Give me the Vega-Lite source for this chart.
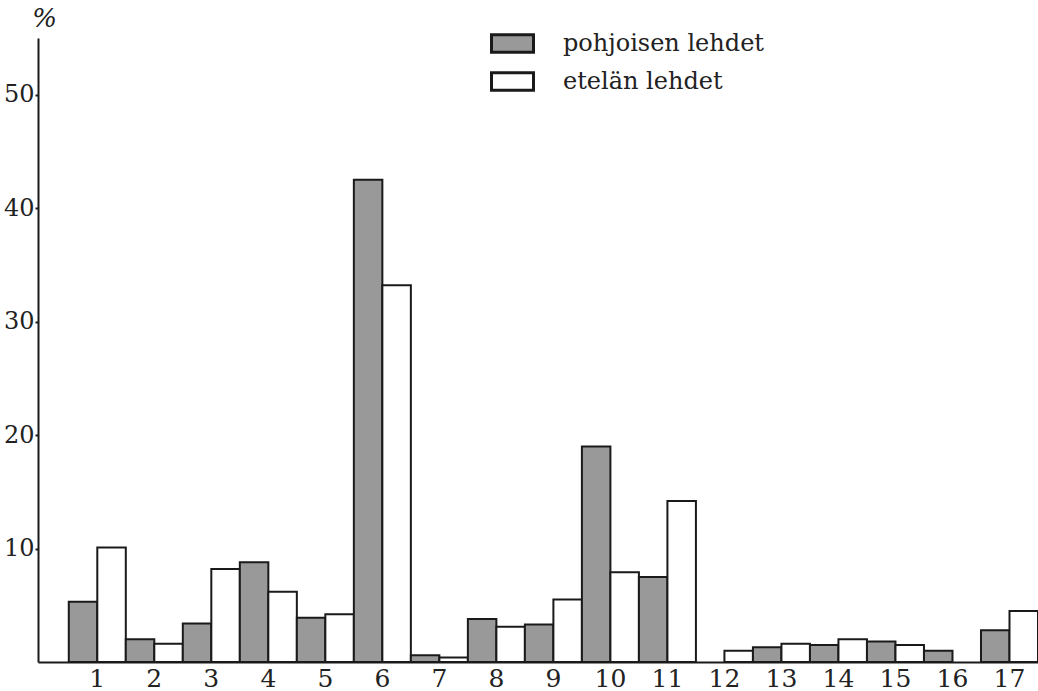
{
  "$schema": "https://vega.github.io/schema/vega-lite/v6.json",
  "width": 1000,
  "height": 624,
  "autosize": {"type": "none"},
  "padding": {"left": 38, "top": 38, "right": 0, "bottom": 29},
  "background": "white",
  "config": {
    "view": {"stroke": null},
    "font": "DejaVu Serif"
  },
  "data": {
    "values": [
      {"cat": "1", "group": "pohjoisen lehdet", "value": 5.3},
      {"cat": "1", "group": "etelän lehdet", "value": 10.1},
      {"cat": "2", "group": "pohjoisen lehdet", "value": 2.0},
      {"cat": "2", "group": "etelän lehdet", "value": 1.6},
      {"cat": "3", "group": "pohjoisen lehdet", "value": 3.4},
      {"cat": "3", "group": "etelän lehdet", "value": 8.2},
      {"cat": "4", "group": "pohjoisen lehdet", "value": 8.8},
      {"cat": "4", "group": "etelän lehdet", "value": 6.2},
      {"cat": "5", "group": "pohjoisen lehdet", "value": 3.9},
      {"cat": "5", "group": "etelän lehdet", "value": 4.2},
      {"cat": "6", "group": "pohjoisen lehdet", "value": 42.5},
      {"cat": "6", "group": "etelän lehdet", "value": 33.2},
      {"cat": "7", "group": "pohjoisen lehdet", "value": 0.6},
      {"cat": "7", "group": "etelän lehdet", "value": 0.4},
      {"cat": "8", "group": "pohjoisen lehdet", "value": 3.8},
      {"cat": "8", "group": "etelän lehdet", "value": 3.1},
      {"cat": "9", "group": "pohjoisen lehdet", "value": 3.3},
      {"cat": "9", "group": "etelän lehdet", "value": 5.5},
      {"cat": "10", "group": "pohjoisen lehdet", "value": 19.0},
      {"cat": "10", "group": "etelän lehdet", "value": 7.9},
      {"cat": "11", "group": "pohjoisen lehdet", "value": 7.5},
      {"cat": "11", "group": "etelän lehdet", "value": 14.2},
      {"cat": "12", "group": "etelän lehdet", "value": 1.0},
      {"cat": "13", "group": "pohjoisen lehdet", "value": 1.3},
      {"cat": "13", "group": "etelän lehdet", "value": 1.6},
      {"cat": "14", "group": "pohjoisen lehdet", "value": 1.5},
      {"cat": "14", "group": "etelän lehdet", "value": 2.0},
      {"cat": "15", "group": "pohjoisen lehdet", "value": 1.8},
      {"cat": "15", "group": "etelän lehdet", "value": 1.5},
      {"cat": "16", "group": "pohjoisen lehdet", "value": 1.0},
      {"cat": "17", "group": "pohjoisen lehdet", "value": 2.8},
      {"cat": "17", "group": "etelän lehdet", "value": 4.5}
    ]
  },
  "mark": {"type": "bar", "stroke": "#1a1a1a", "strokeWidth": 2},
  "encoding": {
    "x": {
      "field": "cat",
      "type": "ordinal",
      "sort": ["1","2","3","4","5","6","7","8","9","10","11","12","13","14","15","16","17"],
      "scale": {"paddingInner": 0, "paddingOuter": 0.27, "align": 1},
      "axis": {
        "title": null,
        "labelAngle": 0,
        "ticks": false,
        "domainColor": "#1a1a1a",
        "domainWidth": 2,
        "labelFont": "DejaVu Serif",
        "labelFontSize": 25,
        "labelColor": "#222222",
        "labelPadding": 4
      }
    },
    "xOffset": {
      "field": "group",
      "type": "nominal",
      "sort": ["pohjoisen lehdet", "etelän lehdet"],
      "scale": {"domain": ["pohjoisen lehdet", "etelän lehdet"], "paddingInner": 0, "paddingOuter": 0}
    },
    "y": {
      "field": "value",
      "type": "quantitative",
      "scale": {"domain": [0, 55], "nice": false},
      "axis": {
        "values": [10, 20, 30, 40, 50],
        "grid": false,
        "domainColor": "#1a1a1a",
        "domainWidth": 2,
        "tickColor": "#1a1a1a",
        "tickSize": 3,
        "tickWidth": 2,
        "labelFont": "DejaVu Serif",
        "labelFontSize": 24,
        "labelColor": "#222222",
        "labelPadding": 1,
        "title": "%",
        "titleFont": "DejaVu Serif",
        "titleFontStyle": "italic",
        "titleFontWeight": "normal",
        "titleFontSize": 26,
        "titleColor": "#222222",
        "titleAngle": 0,
        "titleAlign": "center",
        "titleBaseline": "bottom",
        "titleX": 6,
        "titleY": -7
      }
    },
    "fill": {
      "field": "group",
      "type": "nominal",
      "scale": {"domain": ["pohjoisen lehdet", "etelän lehdet"], "range": ["#999999", "#ffffff"]},
      "legend": {
        "title": null,
        "orient": "none",
        "legendX": 452,
        "legendY": -17,
        "symbolType": "M-1,-0.42H1V0.42H-1Z",
        "symbolSize": 1764,
        "symbolStrokeColor": "#1a1a1a",
        "symbolStrokeWidth": 3,
        "symbolOpacity": 1,
        "labelFont": "DejaVu Serif",
        "labelFontSize": 24,
        "labelLimit": 400,
        "labelColor": "#222222",
        "labelOffset": 28,
        "rowPadding": -4
      }
    }
  }
}
